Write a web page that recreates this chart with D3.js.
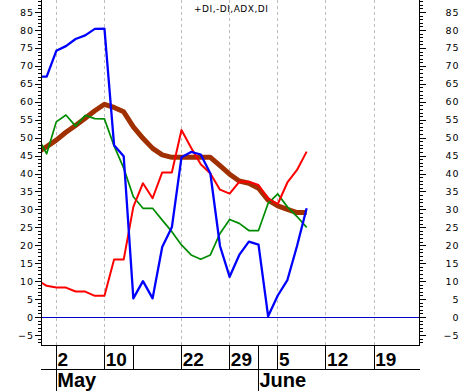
<!DOCTYPE html>
<html>
<head>
<meta charset="utf-8">
<script src="https://cdn.jsdelivr.net/npm/d3@7"></script>
<style>
  html, body { margin: 0; padding: 0; background: #fff; }
  svg { display: block; }
</style>
</head>
<body>
<svg id="chart" width="460" height="391"></svg>
<script>
// ---- data ----
const calendar = ["Apr 27","Apr 28","May 2","May 3","May 4","May 5","May 9","May 10","May 11","May 12",
  "May 15","May 16","May 17","May 18","May 19","May 22","May 23","May 24","May 25","May 26",
  "May 29","May 30","May 31","Jun 1","Jun 2","Jun 5","Jun 6","Jun 7","Jun 8","Jun 9",
  "Jun 12","Jun 13","Jun 14","Jun 15","Jun 16","Jun 19","Jun 20","Jun 21","Jun 22","Jun 23"];

// series values, one per trading day starting at calendar[0]
const diBlue  = [67, 67, 74.2, 75.5, 77.5, 78.5, 80.3, 80.4, 47.9, 44.8, 5.2, 10, 5.2, 19.5, 25, 44.5, 46, 45.3, 40, 19.8, 11.2, 17.3, 21, 20.2, 0.2, 6, 10.3, 19.8, 30.3];
const plusDI  = [10.3, 8.7, 8.2, 8.2, 7.1, 7.1, 5.9, 5.9, 16, 16, 30.7, 37.3, 33.1, 40.3, 40.3, 52.1, 47.2, 42.6, 40, 35.5, 34.4, 37.7, 37.7, 36.8, 33, 31.5, 37.5, 41, 46.1];
const minusDI = [50.5, 45.5, 54.4, 56.3, 53.2, 56.2, 55.3, 55.2, 47.7, 41.5, 33.5, 30.3, 30.3, 27, 23.8, 20.1, 17.3, 16.1, 17.3, 23.3, 27.2, 26.1, 24.1, 24.1, 31.7, 34.3, 30.7, 28, 25];
const adx     = [45.8, 47.5, 49.3, 51.5, 53.4, 55.4, 57.5, 59.3, 58.4, 57.2, 53, 49.8, 47, 45.2, 44.5, 44.5, 44.5, 44.5, 44.5, 42.2, 39.8, 37.9, 37.3, 35.9, 32.6, 31, 30, 29.1, 29.1];

const weekTickDates  = ["May 2","May 10","May 15","May 22","May 29","Jun 5","Jun 12","Jun 19"];
const weekTickLabels = ["2","10","","22","29","5","12","19"];
const monthTickDates  = ["May 2","Jun 1"];
const monthTickLabels = ["May","June"];
const yTickValues = [-5,0,5,10,15,20,25,30,35,40,45,50,55,60,65,70,75,80,85];
const yMinorValues = d3.range(-7, 89);
const title = "+DI,-DI,ADX,DI";

// ---- layout ----
const svg = d3.select("#chart");
const plot = {left: 41, right: 419.5, top: 0, bottom: 345};
const dateRowBottom = 369;
const H = 391;

const x = d3.scaleLinear().domain([0.41, 39.72]).range([plot.left, plot.right]);
const y = d3.scaleLinear().domain([-7.8, 88.36]).range([plot.bottom, plot.top]);
const xi = d => x(calendar.indexOf(d));
const px = v => Math.floor(v) + 0.5;

svg.append("rect").attr("width", 460).attr("height", H).attr("fill", "#fff");

svg.append("defs").append("clipPath").attr("id", "clip")
  .append("rect").attr("x", plot.left).attr("y", plot.top)
  .attr("width", plot.right - plot.left).attr("height", plot.bottom - plot.top);

// grid (dashed) at labelled week ticks
svg.append("g").selectAll("line")
  .data(weekTickDates.filter((d, i) => weekTickLabels[i] !== ""))
  .join("line")
  .attr("x1", d => px(xi(d))).attr("x2", d => px(xi(d)))
  .attr("y1", plot.top).attr("y2", plot.bottom)
  .attr("stroke", "#bdbdbd").attr("stroke-width", 1)
  .attr("stroke-dasharray", "3,3");

// zero line
svg.append("line")
  .attr("x1", plot.left).attr("x2", plot.right)
  .attr("y1", px(y(0))).attr("y2", px(y(0)))
  .attr("stroke", "#0000c8").attr("stroke-width", 1);

// series
const lineGen = d3.line().x((d, i) => x(i)).y(d => y(d));
const g = svg.append("g").attr("clip-path", "url(#clip)");
const series = [
  {values: adx,     color: "#a03000", width: 5},
  {values: minusDI, color: "#008c00", width: 1.7},
  {values: plusDI,  color: "#ff0000", width: 2},
  {values: diBlue,  color: "#0000ff", width: 2.3}
];
g.selectAll("path").data(series).join("path")
  .attr("d", s => lineGen(s.values))
  .attr("fill", "none")
  .attr("stroke", s => s.color)
  .attr("stroke-width", s => s.width)
  .attr("stroke-linejoin", "round")
  .attr("stroke-linecap", "butt");

// y axes
const labelFont = "'DejaVu Sans', Verdana, sans-serif";
function styleAxis(sel) {
  sel.select(".domain").remove();
  sel.selectAll("line").attr("stroke", "#000").attr("shape-rendering", "crispEdges");
  sel.selectAll("text").attr("font-family", labelFont).attr("font-size", 9.5)
    .attr("fill", "#000").attr("letter-spacing", 1);
}
const leftMinor = svg.append("g").attr("transform", `translate(${plot.left},0)`)
  .call(d3.axisLeft(y).tickValues(yMinorValues).tickSize(3).tickFormat(""));
styleAxis(leftMinor);
const leftMajor = svg.append("g").attr("transform", `translate(${plot.left},0)`)
  .call(d3.axisLeft(y).tickValues(yTickValues).tickSize(6).tickPadding(1));
styleAxis(leftMajor);

const rightMinor = svg.append("g").attr("transform", `translate(${plot.right},0)`)
  .call(d3.axisRight(y).tickValues(yMinorValues).tickSize(3).tickFormat(""));
styleAxis(rightMinor);
const rightMajor = svg.append("g").attr("transform", `translate(${plot.right},0)`)
  .call(d3.axisRight(y).tickValues(yTickValues).tickSize(6));
styleAxis(rightMajor);
rightMajor.selectAll("text").attr("text-anchor", "end").attr("x", 40);

// frame lines
const frame = svg.append("g").attr("stroke", "#000").attr("stroke-width", 1)
  .attr("shape-rendering", "crispEdges");
frame.append("line").attr("x1", px(plot.left)).attr("x2", px(plot.left)).attr("y1", 0).attr("y2", plot.bottom);
frame.append("line").attr("x1", px(plot.right)).attr("x2", px(plot.right)).attr("y1", 0).attr("y2", plot.bottom);
frame.append("line").attr("x1", plot.left).attr("x2", plot.right + 0.5).attr("y1", px(plot.bottom)).attr("y2", px(plot.bottom));
frame.append("line").attr("x1", plot.left).attr("x2", plot.right).attr("y1", px(dateRowBottom)).attr("y2", px(dateRowBottom));

// week separators
frame.selectAll(".wk").data(weekTickDates).join("line").attr("class", "wk")
  .attr("x1", d => px(xi(d))).attr("x2", d => px(xi(d)))
  .attr("y1", plot.bottom).attr("y2", dateRowBottom);
// month separators
frame.selectAll(".mo").data(monthTickDates).join("line").attr("class", "mo")
  .attr("x1", d => px(xi(d))).attr("x2", d => px(xi(d)))
  .attr("y1", plot.bottom).attr("y2", H);

// week labels
svg.append("g").selectAll("text").data(weekTickDates).join("text")
  .attr("x", d => xi(d) + 1.2)
  .attr("y", 366)
  .attr("font-family", "'Liberation Sans', Arial, sans-serif")
  .attr("font-weight", "bold").attr("font-size", 19)
  .attr("fill", "#000")
  .text((d, i) => weekTickLabels[i]);

// month labels
svg.append("g").selectAll("text").data(monthTickDates).join("text")
  .attr("x", d => xi(d) + 1)
  .attr("y", 387)
  .attr("font-family", "'Liberation Sans', Arial, sans-serif")
  .attr("font-weight", "bold").attr("font-size", 20)
  .attr("fill", "#000")
  .text((d, i) => monthTickLabels[i]);

// title
svg.append("text")
  .attr("x", 194).attr("y", 12)
  .attr("font-family", labelFont).attr("font-size", 9)
  .attr("letter-spacing", 0.5)
  .attr("fill", "#000")
  .text(title);
</script>
</body>
</html>
